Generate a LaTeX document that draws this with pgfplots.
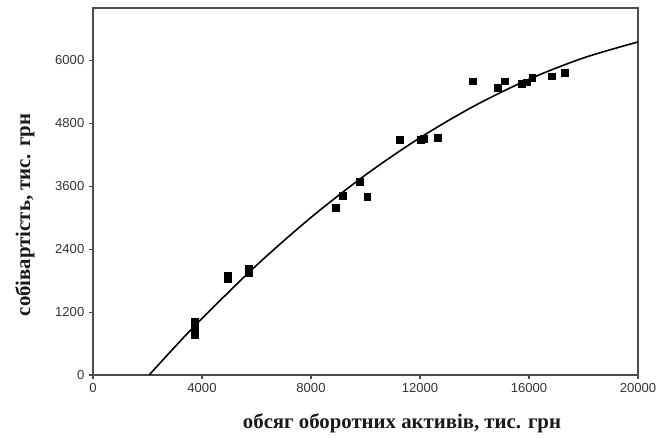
\documentclass[border=0pt]{standalone}
\usepackage{pgfplots}
\pgfplotsset{compat=1.18}
\usepackage{fontspec}
\setmainfont{Liberation Serif}
\newfontfamily\ticksf{Liberation Sans}
\begin{document}
\begin{tikzpicture}
\begin{axis}[
  scale only axis, width=408.75pt, height=275.25pt,
  xmin=0, xmax=20000, ymin=0, ymax=7000,
  xtick={0,4000,8000,12000,16000,20000},
  ytick={0,1200,2400,3600,4800,6000},
  scaled ticks=false,
  xticklabel style={/pgf/number format/1000 sep={}},
  yticklabel style={/pgf/number format/1000 sep={}},
  /pgf/number format/assume math mode=true,
  ticklabel style={font=\ticksf\fontsize{9.8}{11}\selectfont, text=black!80},
  tick align=outside, xtick pos=bottom, ytick pos=left,
  major tick length=3pt,
  axis line style={black!70, line width=0.9pt},
  every tick/.style={black!70, line width=0.8pt},
  xlabel={\bfseries обсяг оборотних активів, тис. грн},
  ylabel={\bfseries собівартість, тис. грн},
  label style={font=\fontsize{15.6}{18}\selectfont, text=black!90},
  xlabel style={at={(axis description cs:0.567,0)}, anchor=center, yshift=-36pt},
  ylabel style={at={(axis description cs:-0.125,0.436)}, anchor=center},
  clip=false,
]
\addplot[only marks, mark=square*, mark size=2.6pt, black] coordinates {
  (3724,1010) (3724,950) (3724,850) (3724,760)
  (4933,1900) (4933,1830)
  (5728,2020) (5728,1950)
  (8898,3182) (9154,3413) (9780,3690) (10064,3394)
  (11258,4481) (12011,4494) (12139,4513) (12637,4527)
  (13930,5602) (14869,5474) (15124,5602) (15721,5557)
  (15920,5583) (16119,5666) (16830,5698) (17313,5763)
};
\addplot[black, line width=1.2pt, smooth] coordinates {
  (2061,0) (3000,534) (4000,1079) (6000,2093) (8000,3005)
  (10000,3816) (12000,4526) (14000,5134) (16000,5642)
  (18000,6048) (20000,6353)
};
\end{axis}
\path ([shift={(-69.75pt,-47.25pt)}]current axis.south west) rectangle ([shift={(19.5pt,6pt)}]current axis.north east);
\end{tikzpicture}
\end{document}
